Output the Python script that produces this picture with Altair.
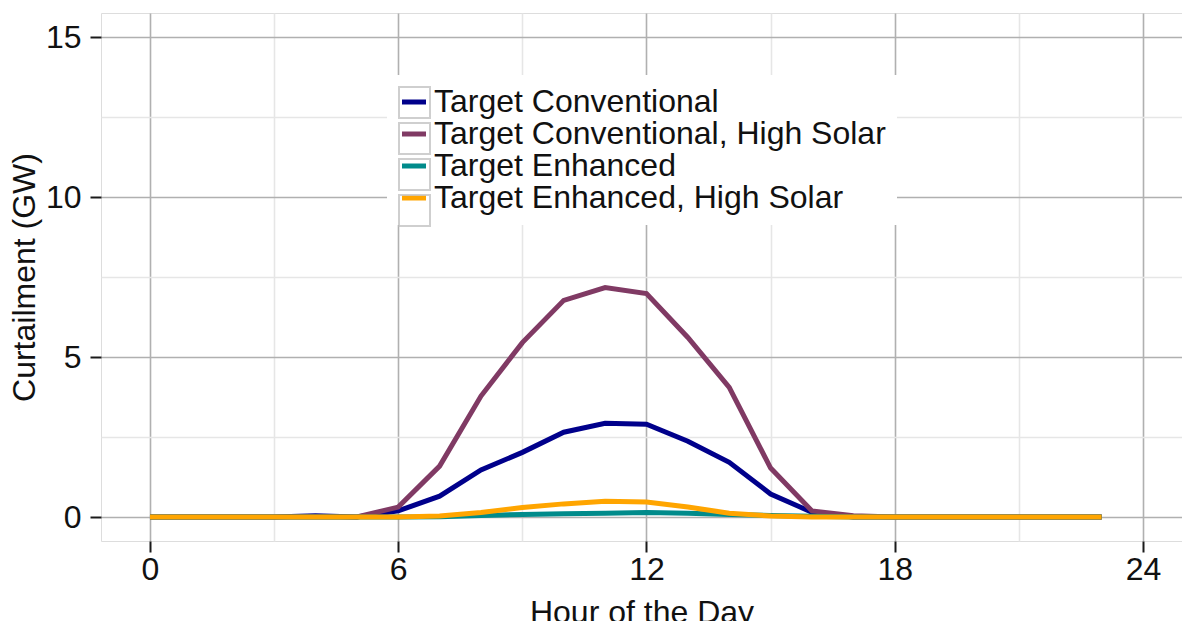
import altair as alt
import pandas as pd

# Hourly curtailment (GW) for each scenario, hours 0-23
hours = list(range(24))
target_conventional = [0, 0, 0, 0, 0.04, 0, 0.19, 0.65, 1.47, 2.02, 2.65, 2.93,
                       2.90, 2.37, 1.71, 0.72, 0.15, 0, 0, 0, 0, 0, 0, 0]
target_conventional_high_solar = [0, 0, 0, 0, 0, 0, 0.31, 1.59, 3.78, 5.45, 6.77, 7.17,
                                  6.98, 5.61, 4.05, 1.53, 0.19, 0.04, 0, 0, 0, 0, 0, 0]
target_enhanced = [0, 0, 0, 0, 0, 0, 0, 0.01, 0.05, 0.08, 0.10, 0.12,
                   0.14, 0.12, 0.08, 0.05, 0.02, 0, 0, 0, 0, 0, 0, 0]
target_enhanced_high_solar = [0, 0, 0, 0, 0, 0, 0, 0.03, 0.14, 0.30, 0.41, 0.49,
                              0.47, 0.31, 0.12, 0.03, 0, 0, 0, 0, 0, 0, 0, 0]

series_names = [
    "Target Conventional",
    "Target Conventional, High Solar",
    "Target Enhanced",
    "Target Enhanced, High Solar",
]
series_values = [
    target_conventional,
    target_conventional_high_solar,
    target_enhanced,
    target_enhanced_high_solar,
]
series_colors = ["#00008B", "#803A64", "#008B8B", "#FFA500"]

# ids for the grey key boxes (kept distinct so that legend is not merged)
key_ids = ["k1", "k2", "k3", "k4"]

x_ticks = [0, 3, 6, 9, 12, 15, 18, 21, 24]
y_ticks = [0, 2.5, 5, 7.5, 10, 12.5, 15]

rows = []
for name, kid, vals in zip(series_names, key_ids, series_values):
    for h, v in zip(hours, vals):
        rows.append({"hour": h, "curtailment": v, "series": name, "key": kid})
df = pd.DataFrame(rows)

FONT = "Liberation Sans"
MAJOR = "#b0b0b0"
MINOR = "#e6e6e6"
FS = 32

x_enc = alt.X(
    "hour:Q",
    title="Hour of the Day",
    scale=alt.Scale(domain=[-1.184, 24.943], nice=False, zero=False),
    axis=alt.Axis(
        values=x_ticks,
        labelExpr="datum.value % 6 === 0 ? datum.label : ''",
        gridColor={"condition": {"test": "datum.value % 6 === 0", "value": MAJOR}, "value": MINOR},
        tickOpacity={"condition": {"test": "datum.value % 6 === 0", "value": 1}, "value": 0},
        gridWidth=1.6,
        domain=False,
        tickColor="#1a1a1a",
        tickWidth=2,
        tickSize=11,
        labelFontSize=FS,
        labelColor="#111111",
        labelPadding=2,
        labelFlush=False,
        labelOverlap=False,
        titleFontSize=FS,
        titleFontWeight="normal",
        titleColor="#111111",
        titlePadding=12,
    ),
)
y_enc = alt.Y(
    "curtailment:Q",
    title="Curtailment (GW)",
    scale=alt.Scale(domain=[-0.75, 15.75], nice=False, zero=False),
    axis=alt.Axis(
        values=y_ticks,
        labelExpr="datum.value % 5 === 0 ? datum.label : ''",
        gridColor={"condition": {"test": "datum.value % 5 === 0", "value": MAJOR}, "value": MINOR},
        tickOpacity={"condition": {"test": "datum.value % 5 === 0", "value": 1}, "value": 0},
        gridWidth=1.6,
        domain=False,
        tickColor="#1a1a1a",
        tickWidth=2,
        tickSize=11,
        labelFontSize=FS,
        labelColor="#111111",
        labelPadding=9,
        labelFlush=False,
        labelOverlap=False,
        titleFontSize=FS,
        titleFontWeight="normal",
        titleColor="#111111",
        titlePadding=4,
    ),
)

legend_common = dict(
    orient="none",
    legendX=286,
    legendY=62,
    title=None,
    padding=11,
    labelFont=FONT,
    labelFontSize=FS,
    labelLimit=600,
)

lines = alt.Chart(df).mark_line(strokeWidth=5, strokeCap="butt").encode(
    x=x_enc,
    y=y_enc,
    color=alt.Color(
        "series:N",
        scale=alt.Scale(domain=series_names, range=series_colors),
        legend=alt.Legend(
            symbolType="stroke",
            symbolStrokeWidth=5,
            symbolSize=576,
            labelColor="#111111",
            labelOffset=4,
            fillColor="white",
            rowPadding=0,
            **legend_common,
        ),
    ),
)

# Grey key boxes drawn over the legend lines
key_boxes = alt.Chart(df).transform_filter("false").mark_point(
    filled=False, color="#bcbcbc", strokeWidth=2
).encode(
    x="hour:Q",
    y="curtailment:Q",
    shape=alt.Shape(
        "key:N",
        scale=alt.Scale(domain=key_ids, range=["square"] * 4),
        legend=alt.Legend(
            symbolSize=961,
            symbolStrokeColor="#bcbcbc",
            symbolStrokeWidth=2,
            symbolFillColor="transparent",
            labelExpr="''",
            labelOffset=0,
            rowPadding=-8.8,
            **legend_common,
        ),
    ),
)

chart = (
    alt.layer(lines, key_boxes)
    .properties(
        width=1081,
        height=528,
        autosize=alt.AutoSizeParams(type="none"),
        padding={"left": 101, "top": 13, "right": 0, "bottom": 80},
        background="white",
    )
    .configure_view(stroke=MAJOR, strokeWidth=1.6)
    .configure(font=FONT)
)

chart.save("out.html", embed_options={"renderer": "svg", "actions": False})
